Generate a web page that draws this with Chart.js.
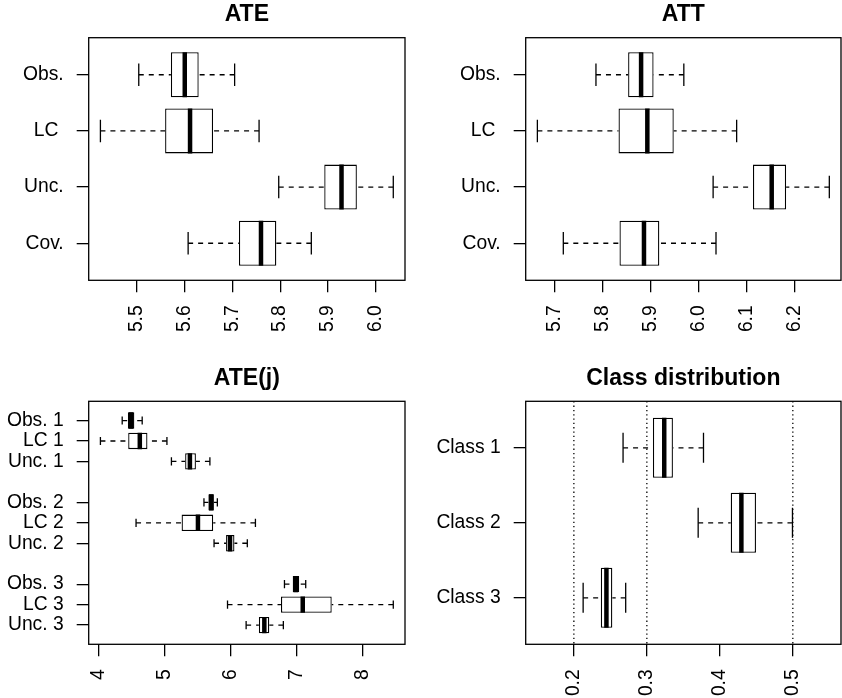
<!DOCTYPE html>
<html><head><meta charset="utf-8">
<script src="https://cdn.jsdelivr.net/npm/chart.js@4.4.1/dist/chart.umd.min.js"></script>
<style>
html,body{margin:0;padding:0;background:#fff;}
#wrap{position:relative;width:842px;height:698px;background:#fff;}
canvas{position:absolute;}
</style></head><body>
<div id="wrap">
<canvas id="c1" width="421" height="349" style="left:0px;top:0px"></canvas>
<canvas id="c2" width="421" height="349" style="left:421px;top:0px"></canvas>
<canvas id="c3" width="421" height="349" style="left:0px;top:349px"></canvas>
<canvas id="c4" width="421" height="349" style="left:421px;top:349px"></canvas>
</div>
<script>
// ---- ATE ----
const ateLabels = ['Obs.', 'LC ', 'Unc.', 'Cov.'];
const atePos = [1, 2, 3, 4];
const ateLow  = [5.505, 5.425, 5.797, 5.608];
const ateQ1   = [5.572, 5.560, 5.892, 5.714];
const ateMed  = [5.601, 5.612, 5.928, 5.760];
const ateQ3   = [5.630, 5.660, 5.960, 5.792];
const ateHigh = [5.705, 5.756, 6.036, 5.865];
const ateTicks = [5.5, 5.6, 5.7, 5.8, 5.9, 6.0];

// ---- ATT ----
const attLabels = ['Obs.', 'LC ', 'Unc.', 'Cov.'];
const attPos = [1, 2, 3, 4];
const attLow  = [5.787, 5.665, 6.031, 5.719];
const attQ1   = [5.854, 5.834, 6.114, 5.836];
const attMed  = [5.881, 5.894, 6.153, 5.887];
const attQ3   = [5.907, 5.949, 6.183, 5.919];
const attHigh = [5.970, 6.080, 6.273, 6.037];
const attTicks = [5.7, 5.8, 5.9, 6.0, 6.1, 6.2];

// ---- ATE(j) ----
const atejLabels = ['Obs. 1', 'LC 1', 'Unc. 1', 'Obs. 2', 'LC 2', 'Unc. 2', 'Obs. 3', 'LC 3', 'Unc. 3'];
const atejPos = [1, 2, 3, 5, 6, 7, 9, 10, 11];
const atejLow  = [4.356, 4.026, 5.102, 5.595, 4.566, 5.748, 6.815, 5.952, 6.234];
const atejQ1   = [4.442, 4.447, 5.310, 5.662, 5.256, 5.930, 6.940, 6.762, 6.427];
const atejMed  = [4.490, 4.623, 5.382, 5.705, 5.504, 5.990, 6.986, 7.092, 6.510];
const atejQ3   = [4.540, 4.739, 5.473, 5.745, 5.735, 6.057, 7.038, 7.531, 6.585];
const atejHigh = [4.659, 5.034, 5.685, 5.798, 6.375, 6.252, 7.137, 8.464, 6.798];
const atejTicks = [4, 5, 6, 7, 8];

// ---- Class distribution ----
const classLabels = ['Class 1', 'Class 2', 'Class 3'];
const classPos = [1, 2, 3];
const classLow  = [0.2674, 0.3703, 0.2127];
const classQ1   = [0.3083, 0.4149, 0.2369];
const classMed  = [0.3238, 0.4295, 0.2446];
const classQ3   = [0.3357, 0.4495, 0.2527];
const classHigh = [0.3776, 0.4995, 0.2710];
const classTicks = [0.2, 0.3, 0.4, 0.5];
const classRefLines = [0.2, 0.3, 0.5];
const classLimits = [0.15, 0.55];

Chart.defaults.font.family = "'Liberation Sans', Arial, Helvetica, sans-serif";
Chart.defaults.color = '#000';

const framePlugin = {
  id: 'frame',
  afterDraw(chart) {
    const {ctx, chartArea: a} = chart;
    ctx.save();
    ctx.strokeStyle = '#000';
    ctx.lineWidth = 1.3;
    ctx.strokeRect(a.left, a.top, a.right - a.left, a.bottom - a.top);
    ctx.restore();
  }
};

function extend(lo, hi) {
  const d = (hi - lo) * 0.04;
  return [lo - d, hi + d];
}

function boxPanel(id, o, L) {
  const gap = {x: null, y: null};
  const xLim = o.limits ? extend(o.limits[0], o.limits[1])
                        : extend(Math.min(...o.low), Math.max(...o.high));
  const yLim = extend(Math.min(...o.pos) - 0.5, Math.max(...o.pos) + 0.5);

  const whiskers = [], caps = [], medians = [];
  o.pos.forEach((p, i) => {
    whiskers.push({x: o.low[i], y: p}, {x: o.q1[i], y: p}, gap,
                  {x: o.high[i], y: p}, {x: o.q3[i], y: p}, gap);
    caps.push({x: o.low[i], y: p - 0.2}, {x: o.low[i], y: p + 0.2}, gap,
              {x: o.high[i], y: p - 0.2}, {x: o.high[i], y: p + 0.2}, gap);
    medians.push({x: o.med[i], y: p - 0.4}, {x: o.med[i], y: p + 0.4}, gap);
  });

  const lineBase = {type: 'line', borderColor: '#000', pointRadius: 0, fill: false, spanGaps: false, borderWidth: 1.3};
  const datasets = [];
  if (o.refLines) {
    const ref = [];
    o.refLines.forEach(v => ref.push({x: v, y: yLim[0]}, {x: v, y: yLim[1]}, gap));
    datasets.push(Object.assign({}, lineBase, {data: ref, borderDash: [1.3, 3]}));
  }
  datasets.push(Object.assign({}, lineBase, {data: medians, borderWidth: 4.5, borderCapStyle: 'butt'}));
  datasets.push(Object.assign({}, lineBase, {data: caps}));
  datasets.push(Object.assign({}, lineBase, {data: whiskers, borderDash: [5, 5]}));
  datasets.push({
    type: 'bar',
    data: o.pos.map((p, i) => ({x: [o.q1[i], o.q3[i]], y: p})),
    backgroundColor: '#fff', borderColor: '#000', borderWidth: 1.3, borderSkipped: false,
    categoryPercentage: 1, barPercentage: 0.8
  });

  const tickFont = {size: 19.3};
  new Chart(document.getElementById(id), {
    type: 'bar',
    data: {datasets},
    options: {
      indexAxis: 'y',
      responsive: false,
      devicePixelRatio: 1,
      animation: false,
      events: [],
      layout: {padding: {left: 0, right: L.padRight, top: 0, bottom: 0}},
      plugins: {
        legend: {display: false},
        tooltip: {enabled: false},
        title: {
          display: true, text: o.title, fullSize: false, color: '#000',
          font: {size: 23, weight: 'bold'},
          padding: {top: L.titleTop, bottom: L.titleBottom}
        }
      },
      scales: {
        x: {
          type: 'linear', min: xLim[0], max: xLim[1], bounds: 'data', beginAtZero: false, offset: false,
          afterBuildTicks: s => { s.ticks = o.ticks.map(v => ({value: v})); },
          afterFit: s => { s.height = L.axisH; },
          ticks: {
            minRotation: 90, maxRotation: 90, autoSkip: false, padding: 13, color: '#000', font: tickFont,
            callback: (v, i) => o.ticks[i].toFixed(o.digits)
          },
          grid: {display: true, drawOnChartArea: false, drawTicks: true, tickLength: 12, color: '#000', lineWidth: 1.3, offset: false},
          border: {display: false}
        },
        y: {
          type: 'linear', reverse: true, min: yLim[0], max: yLim[1], bounds: 'data', offset: false,
          afterBuildTicks: s => { s.ticks = o.pos.map(v => ({value: v})); },
          afterFit: s => { s.width = L.axisW; },
          ticks: {
            autoSkip: false, padding: 13, color: '#000', font: tickFont,
            callback: (v, i) => o.labels[i]
          },
          grid: {display: true, drawOnChartArea: false, drawTicks: true, tickLength: 12, color: '#000', lineWidth: 1.3, offset: false},
          border: {display: false}
        }
      }
    },
    plugins: [framePlugin]
  });
}

const topLayoutL  = {axisW: 88.7,  padRight: 16, axisH: 68.7, titleTop: 0.9,  titleBottom: 9.2};
const topLayoutR  = {axisW: 104.7, padRight: 1,  axisH: 68.7, titleTop: 0.9,  titleBottom: 9.2};
const botLayoutL  = {axisW: 88.7,  padRight: 16, axisH: 53.7, titleTop: 16.2, titleBottom: 8.5};
const botLayoutR  = {axisW: 104.7, padRight: 1,  axisH: 53.7, titleTop: 16.2, titleBottom: 8.5};

boxPanel('c1', {title: 'ATE', labels: ateLabels, pos: atePos, low: ateLow, q1: ateQ1, med: ateMed, q3: ateQ3, high: ateHigh, ticks: ateTicks, digits: 1}, topLayoutL);
boxPanel('c2', {title: 'ATT', labels: attLabels, pos: attPos, low: attLow, q1: attQ1, med: attMed, q3: attQ3, high: attHigh, ticks: attTicks, digits: 1}, topLayoutR);
boxPanel('c3', {title: 'ATE(j)', labels: atejLabels, pos: atejPos, low: atejLow, q1: atejQ1, med: atejMed, q3: atejQ3, high: atejHigh, ticks: atejTicks, digits: 0}, botLayoutL);
boxPanel('c4', {title: 'Class distribution', labels: classLabels, pos: classPos, low: classLow, q1: classQ1, med: classMed, q3: classQ3, high: classHigh, ticks: classTicks, digits: 1, limits: classLimits, refLines: classRefLines}, botLayoutR);
</script>
</body></html>
